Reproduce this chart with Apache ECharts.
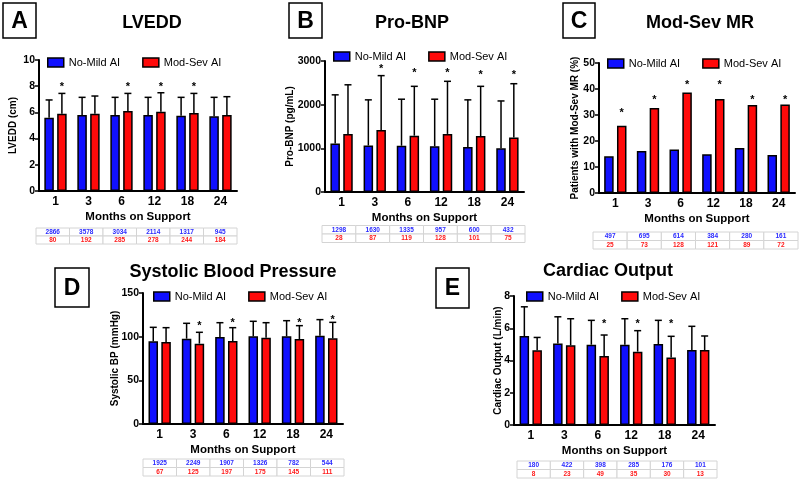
<!DOCTYPE html>
<html>
<head>
<meta charset="utf-8">
<script src="https://cdn.jsdelivr.net/npm/echarts@6/dist/echarts.min.js"></script>
<style>
  html, body { margin: 0; padding: 0; background: #fff; }
  #chart { width: 800px; height: 480px; }
</style>
</head>
<body>
<div id="chart"></div>
<script>
const months = ['1', '3', '6', '12', '18', '24'];

// LVEDD (cm): mean and top of error bar
const lveddLow = [5.6, 5.8, 5.8, 5.8, 5.75, 5.7];
const lveddLowTop = [6.95, 7.15, 7.15, 7.15, 7.15, 7.15];
const lveddHigh = [5.9, 5.9, 6.1, 6.05, 5.95, 5.8];
const lveddHighTop = [7.45, 7.25, 7.45, 7.5, 7.45, 7.2];
const lveddStars = [8.1, null, 8.1, 8.1, 8.1, null];
const lveddNLow = [2866, 3578, 3034, 2114, 1317, 945];
const lveddNHigh = [80, 192, 285, 278, 244, 184];

// Pro-BNP (pg/mL)
const bnpLow = [1110, 1065, 1060, 1050, 1030, 1000];
const bnpLowTop = [2225, 2110, 2125, 2125, 2110, 2085];
const bnpHigh = [1330, 1420, 1290, 1330, 1280, 1250];
const bnpHighTop = [2455, 2665, 2420, 2535, 2420, 2480];
const bnpStars = [null, 2880, 2780, 2780, 2740, 2740];
const bnpNLow = [1298, 1630, 1335, 957, 600, 432];
const bnpNHigh = [28, 87, 119, 128, 101, 75];

// Mod-Sev MR (%)
const mrLow = [14.1, 16.2, 16.7, 14.9, 17.3, 14.6];
const mrHigh = [25.9, 32.7, 38.7, 36.2, 33.8, 34.0];
const mrStars = [31.8, 36.9, 42.4, 42.4, 36.7, 36.7];
const mrNLow = [497, 695, 614, 384, 280, 161];
const mrNHigh = [25, 73, 128, 121, 89, 72];

// Systolic BP (mmHg)
const sbpLow = [94.7, 97.7, 99.6, 100.4, 100.4, 101.1];
const sbpLowTop = [110.7, 115.3, 116.0, 117.6, 118.3, 119.5];
const sbpHigh = [93.9, 92.0, 95.0, 98.9, 97.3, 98.1];
const sbpHighTop = [110.3, 105.0, 110.3, 116.0, 112.6, 116.4];
const sbpStars = [null, 114.9, 119.1, null, 119.1, 122.1];
const sbpNLow = [1925, 2249, 1907, 1326, 782, 544];
const sbpNHigh = [67, 125, 197, 175, 145, 111];

// Cardiac output (L/min)
const coLow = [5.52, 5.06, 4.98, 4.98, 5.02, 4.65];
const coLowTop = [7.33, 6.71, 6.49, 6.59, 6.49, 6.12];
const coHigh = [4.63, 4.94, 4.28, 4.55, 4.19, 4.65];
const coHighTop = [5.43, 6.59, 5.58, 5.85, 5.5, 5.52];
const coStars = [null, null, 6.4, 6.4, 6.4, null];
const coNLow = [180, 422, 398, 285, 176, 101];
const coNHigh = [8, 23, 49, 35, 30, 13];

const FONT = 'Liberation Sans, Arial, sans-serif';
const BLUE = '#1010ff';
const RED = '#ff0a0a';
const BAR_W = 9.5;
const HALF_STEP = 6.4; // distance of each bar centre from the category centre

const panels = [
  { letter: 'A', title: 'LVEDD', yName: 'LVEDD (cm)', max: 10, interval: 2,
    low: lveddLow, lowTop: lveddLowTop, high: lveddHigh, highTop: lveddHighTop,
    stars: lveddStars, nLow: lveddNLow, nHigh: lveddNHigh,
    box: [3, 3, 33, 35], titlePos: [152, 23], yNameGap: 21,
    grid: { left: 39, top: 60, width: 198, height: 131 },
    legend: { left: 47, top: 57 }, table: { x: 36, y: 228, w: 201, rh: 8 } },
  { letter: 'B', title: 'Pro-BNP', yName: 'Pro-BNP (pg/mL)', max: 3000, interval: 1000,
    low: bnpLow, lowTop: bnpLowTop, high: bnpHigh, highTop: bnpHighTop,
    stars: bnpStars, nLow: bnpNLow, nHigh: bnpNHigh,
    box: [289, 3, 33, 35], titlePos: [412, 23], yNameGap: 30,
    grid: { left: 325, top: 61, width: 199, height: 131 },
    legend: { left: 333, top: 51 }, table: { x: 322, y: 225.5, w: 203, rh: 8.5 } },
  { letter: 'C', title: 'Mod-Sev MR', yName: 'Patients with Mod-Sev MR (%)', max: 50, interval: 10,
    low: mrLow, lowTop: null, high: mrHigh, highTop: null,
    stars: mrStars, nLow: mrNLow, nHigh: mrNHigh,
    box: [563, 3, 32, 35], titlePos: [700, 23], yNameGap: 19,
    grid: { left: 599, top: 63, width: 196, height: 130 },
    legend: { left: 607, top: 58 }, table: { x: 593, y: 232, w: 205, rh: 8.5 } },
  { letter: 'D', title: 'Systolic Blood Pressure', yName: 'Systolic BP (mmHg)', max: 150, interval: 50,
    low: sbpLow, lowTop: sbpLowTop, high: sbpHigh, highTop: sbpHighTop,
    stars: sbpStars, nLow: sbpNLow, nHigh: sbpNHigh,
    box: [55, 268, 34, 39], titlePos: [233, 272], yNameGap: 23,
    grid: { left: 143, top: 293, width: 200, height: 131 },
    legend: { left: 153, top: 291 }, table: { x: 143, y: 459, w: 201, rh: 8.5 } },
  { letter: 'E', title: 'Cardiac Output', yName: 'Cardiac Output (L/min)', max: 8, interval: 2,
    low: coLow, lowTop: coLowTop, high: coHigh, highTop: coHighTop,
    stars: coStars, nLow: coNLow, nHigh: coNHigh,
    box: [436, 268, 33, 40], titlePos: [608, 271], yNameGap: 11,
    grid: { left: 514, top: 296, width: 201, height: 129 },
    legend: { left: 526, top: 291 }, table: { x: 517, y: 461, w: 200, rh: 8.5 } }
];

// upward error bar with a cap, shifted onto the left or right bar
function renderErr(params, api) {
  const j = api.value(0);
  const base = api.coord([j, api.value(1)]);
  const top = api.coord([j, api.value(2)]);
  const x = base[0] + api.value(3) * HALF_STEP;
  const st = { stroke: '#000', lineWidth: 1.5 };
  return {
    type: 'group',
    children: [
      { type: 'line', shape: { x1: x, y1: base[1], x2: x, y2: top[1] }, style: st },
      { type: 'line', shape: { x1: x - 3.5, y1: top[1], x2: x + 3.5, y2: top[1] }, style: st }
    ]
  };
}

function renderStar(params, api) {
  const p = api.coord([api.value(0), api.value(1)]);
  return {
    type: 'text',
    x: p[0] + HALF_STEP,
    y: p[1] + 2.5,
    style: { text: '*', fill: '#000', font: 'bold 11px ' + FONT, align: 'center', verticalAlign: 'middle' }
  };
}

const grids = [], xAxes = [], yAxes = [], series = [], legends = [], graphics = [];

panels.forEach((p, i) => {
  grids.push(Object.assign({ containLabel: false }, p.grid));

  xAxes.push({
    type: 'category', gridIndex: i, data: months,
    axisLine: { lineStyle: { color: '#000', width: 2 } },
    axisTick: { alignWithLabel: true, length: 4, lineStyle: { color: '#000', width: 1.5 } },
    axisLabel: { color: '#000', fontWeight: 'bold', fontSize: 12, margin: 5, fontFamily: FONT },
    name: 'Months on Support', nameLocation: 'middle', nameGap: 20,
    nameTextStyle: { color: '#000', fontWeight: 'bold', fontSize: 11.5, fontFamily: FONT }
  });

  yAxes.push({
    type: 'value', gridIndex: i, min: 0, max: p.max, interval: p.interval,
    axisLine: { show: true, lineStyle: { color: '#000', width: 2 } },
    axisTick: { show: true, length: 4, lineStyle: { color: '#000', width: 1.5 } },
    splitLine: { show: false },
    axisLabel: { color: '#000', fontWeight: 'bold', fontSize: 10.5, margin: 4, fontFamily: FONT,
                 formatter: (v) => String(v) },
    name: p.yName, nameLocation: 'middle', nameGap: p.yNameGap, nameMoveOverlap: false,
    nameTextStyle: { color: '#000', fontWeight: 'bold', fontSize: 10, fontFamily: FONT }
  });

  const barBase = {
    type: 'bar', xAxisIndex: i, yAxisIndex: i, barWidth: BAR_W, barGap: '35%',
    animation: false
  };
  series.push(Object.assign({}, barBase, {
    name: 'No-Mild AI', data: p.low,
    itemStyle: { color: BLUE, borderColor: '#000', borderWidth: 1.5 }
  }));
  series.push(Object.assign({}, barBase, {
    name: 'Mod-Sev AI', data: p.high,
    itemStyle: { color: RED, borderColor: '#000', borderWidth: 1.5 }
  }));

  if (p.lowTop) {
    const errData = [];
    months.forEach((m, j) => {
      errData.push([j, p.low[j], p.lowTop[j], -1]);
      errData.push([j, p.high[j], p.highTop[j], 1]);
    });
    series.push({
      type: 'custom', xAxisIndex: i, yAxisIndex: i, renderItem: renderErr,
      data: errData, encode: { x: 0, y: 2 }, z: 5, silent: true, animation: false
    });
  }

  const starData = [];
  p.stars.forEach((v, j) => { if (v != null) starData.push([j, v]); });
  series.push({
    type: 'custom', xAxisIndex: i, yAxisIndex: i, renderItem: renderStar,
    data: starData, encode: { x: 0, y: 1 }, z: 6, silent: true, animation: false
  });

  legends.push({
    left: p.legend.left, top: p.legend.top, orient: 'horizontal', padding: 0,
    data: ['No-Mild AI', 'Mod-Sev AI'], icon: 'rect',
    itemWidth: 16, itemHeight: 9, itemGap: 22,
    itemStyle: { borderColor: '#000', borderWidth: 1.5 },
    textStyle: { color: '#000', fontSize: 11, fontFamily: FONT },
    selectedMode: false
  });

  // letter box
  const [bx, by, bw, bh] = p.box;
  graphics.push({
    type: 'rect', shape: { x: bx, y: by, width: bw, height: bh },
    style: { fill: '#fff', stroke: '#000', lineWidth: 1.5 }
  });
  graphics.push({
    type: 'text', x: bx + bw / 2, y: by + bh / 2 + 1,
    style: { text: p.letter, fill: '#000', font: 'bold 23px ' + FONT, align: 'center', verticalAlign: 'middle' }
  });

  // panel title
  graphics.push({
    type: 'text', x: p.titlePos[0], y: p.titlePos[1],
    style: { text: p.title, fill: '#000', font: 'bold 18px ' + FONT, align: 'center', verticalAlign: 'middle' }
  });

  // sample size table under the axis
  const t = p.table;
  const cw = t.w / months.length;
  [p.nLow, p.nHigh].forEach((row, r) => {
    row.forEach((n, c) => {
      graphics.push({
        type: 'rect', shape: { x: t.x + c * cw, y: t.y + r * t.rh, width: cw, height: t.rh },
        style: { fill: '#fff', stroke: '#d4d4d4', lineWidth: 1 }
      });
      graphics.push({
        type: 'text', x: t.x + c * cw + cw / 2, y: t.y + r * t.rh + t.rh / 2,
        style: { text: String(n), fill: r === 0 ? '#2a2aff' : '#ff1a1a',
                 font: 'bold 6.5px ' + FONT, align: 'center', verticalAlign: 'middle' }
      });
    });
  });
});

const chart = echarts.init(document.getElementById('chart'));
chart.setOption({
  backgroundColor: '#fff',
  animation: false,
  textStyle: { fontFamily: FONT },
  grid: grids,
  xAxis: xAxes,
  yAxis: yAxes,
  legend: legends,
  series: series,
  graphic: graphics
});
</script>
</body>
</html>
